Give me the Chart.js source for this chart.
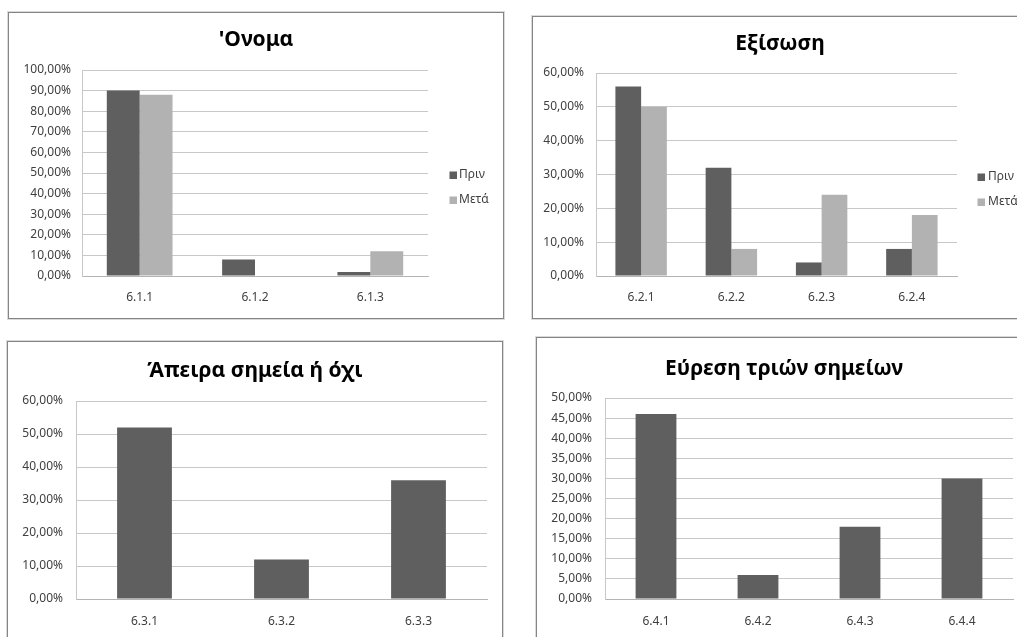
<!DOCTYPE html>
<html>
<head>
<meta charset="utf-8">
<script src="https://cdn.jsdelivr.net/npm/chart.js@4.4.1/dist/chart.umd.min.js"></script>
<style>
  html, body { margin: 0; padding: 0; background: #fff; width: 1017px; height: 637px; overflow: hidden; position: relative; }
  .box { position: absolute; border: 1px solid #858585; box-shadow: 0 0 0 1px rgba(150,150,150,0.35); background: #fff; }
  .box canvas { display: block; }
</style>
</head>
<body>
<div class="box" style="left:8px;top:12px;width:494px;height:305px"><canvas id="c1" width="494" height="305"></canvas></div>
<div class="box" style="left:532px;top:16px;width:494px;height:301px"><canvas id="c2" width="494" height="301"></canvas></div>
<div class="box" style="left:7px;top:341px;width:494px;height:305px"><canvas id="c3" width="494" height="305"></canvas></div>
<div class="box" style="left:536px;top:337px;width:494px;height:305px"><canvas id="c4" width="494" height="305"></canvas></div>
<script>
// Series names
const seriesLabels = ['Πριν', 'Μετά'];

// 6.1 – 'Ονομα
const nameCategories = ['6.1.1', '6.1.2', '6.1.3'];
const nameBefore = [90, 8, 2];
const nameAfter = [88, 0, 12];

// 6.2 – Εξίσωση
const equationCategories = ['6.2.1', '6.2.2', '6.2.3', '6.2.4'];
const equationBefore = [56, 32, 4, 8];
const equationAfter = [50, 8, 24, 18];

// 6.3 – Άπειρα σημεία ή όχι
const infiniteCategories = ['6.3.1', '6.3.2', '6.3.3'];
const infiniteValues = [52, 12, 36];

// 6.4 – Εύρεση τριών σημείων
const threePointCategories = ['6.4.1', '6.4.2', '6.4.3', '6.4.4'];
const threePointValues = [46, 6, 18, 30];

// Value axis ranges [max, step]
const nameAxis = [100, 10];
const equationAxis = [60, 10];
const infiniteAxis = [60, 10];
const threePointAxis = [50, 5];

const DARK = '#5f5f5f';
const LIGHT = '#b2b2b2';
const FONT = "'Noto Sans', sans-serif";
const TICK_SIZE = 12;

Chart.defaults.font.family = FONT;
Chart.defaults.color = '#404040';

const pct = v => Number(v).toFixed(2).replace('.', ',') + '%';

// Small legend drawn beside the plot area
const sideLegend = {
  id: 'sideLegend',
  afterDraw(chart, args, opts) {
    if (!opts || !opts.show) return;
    const ctx = chart.ctx;
    ctx.save();
    ctx.font = TICK_SIZE + 'px ' + FONT;
    ctx.textBaseline = 'middle';
    ctx.textAlign = 'left';
    chart.data.datasets.forEach((ds, i) => {
      const y = opts.rows[i];
      ctx.fillStyle = ds.backgroundColor;
      ctx.fillRect(opts.markerX, y - 3.5, 7.5, 7.5);
      ctx.fillStyle = '#404040';
      ctx.fillText(ds.label, opts.textX, y);
    });
    ctx.restore();
  }
};

function build(id, s) {
  const canvas = document.getElementById(id);
  const W = canvas.width, H = canvas.height;
  const TS = 21;
  const lh = TS * 1.2;
  return new Chart(canvas, {
    type: 'bar',
    data: { labels: s.labels, datasets: s.datasets },
    plugins: [sideLegend],
    options: {
      responsive: false,
      animation: false,
      devicePixelRatio: 1,
      layout: { padding: 0 },
      datasets: { bar: { barPercentage: 1, categoryPercentage: s.catPct } },
      plugins: {
        legend: { display: false },
        tooltip: { enabled: false },
        title: {
          display: true,
          text: s.title,
          color: '#000',
          font: { size: TS, weight: 'bold', family: FONT },
          padding: { top: s.titleY - lh / 2, bottom: s.area.t - s.titleY - lh / 2 }
        },
        sideLegend: s.legend || { show: false }
      },
      scales: {
        x: {
          grid: { display: false, drawTicks: false },
          border: { display: true, color: '#b4b4b4' },
          ticks: { font: { size: TICK_SIZE }, padding: s.xPad, color: '#404040' },
          afterFit: sc => { sc.height = H - s.area.b; }
        },
        y: {
          min: 0, max: s.axis[0],
          grid: { color: '#c8c8c8', drawTicks: false },
          border: { display: true, color: '#c8c8c8' },
          ticks: { stepSize: s.axis[1], callback: pct, font: { size: TICK_SIZE }, padding: s.yPad, color: '#404040' },
          afterFit: sc => { sc.width = s.area.l; }
        },
        spacer: {
          type: 'linear', position: 'right',
          grid: { display: false }, border: { display: false },
          ticks: { display: false },
          afterFit: sc => { sc.width = W - s.area.r; }
        }
      }
    }
  });
}

build('c1', {
  labels: nameCategories,
  datasets: [
    { label: seriesLabels[0], data: nameBefore, backgroundColor: DARK },
    { label: seriesLabels[1], data: nameAfter, backgroundColor: LIGHT }
  ],
  catPct: 0.57, axis: nameAxis, title: "'Ονομα",
  area: { l: 73, t: 57, r: 419, b: 263 }, titleY: 27, xPad: 14, yPad: 11,
  legend: { show: true, markerX: 440.5, textX: 450, rows: [162, 187] }
});

build('c2', {
  labels: equationCategories,
  datasets: [
    { label: seriesLabels[0], data: equationBefore, backgroundColor: DARK },
    { label: seriesLabels[1], data: equationAfter, backgroundColor: LIGHT }
  ],
  catPct: 0.57, axis: equationAxis, title: 'Εξίσωση',
  area: { l: 63, t: 56, r: 424, b: 259 }, titleY: 27, xPad: 14, yPad: 12,
  legend: { show: true, markerX: 444.5, textX: 455, rows: [160, 185] }
});

build('c3', {
  labels: infiniteCategories,
  datasets: [ { label: seriesLabels[0], data: infiniteValues, backgroundColor: DARK } ],
  catPct: 0.4, axis: infiniteAxis, title: 'Άπειρα σημεία ή όχι',
  area: { l: 68, t: 59, r: 479, b: 257 }, titleY: 29, xPad: 15, yPad: 13
});

build('c4', {
  labels: threePointCategories,
  datasets: [ { label: seriesLabels[0], data: threePointValues, backgroundColor: DARK } ],
  catPct: 0.4, axis: threePointAxis, title: 'Εύρεση τριών σημείων',
  area: { l: 68, t: 60, r: 476, b: 261 }, titleY: 31, xPad: 15, yPad: 13
});
</script>
</body>
</html>
